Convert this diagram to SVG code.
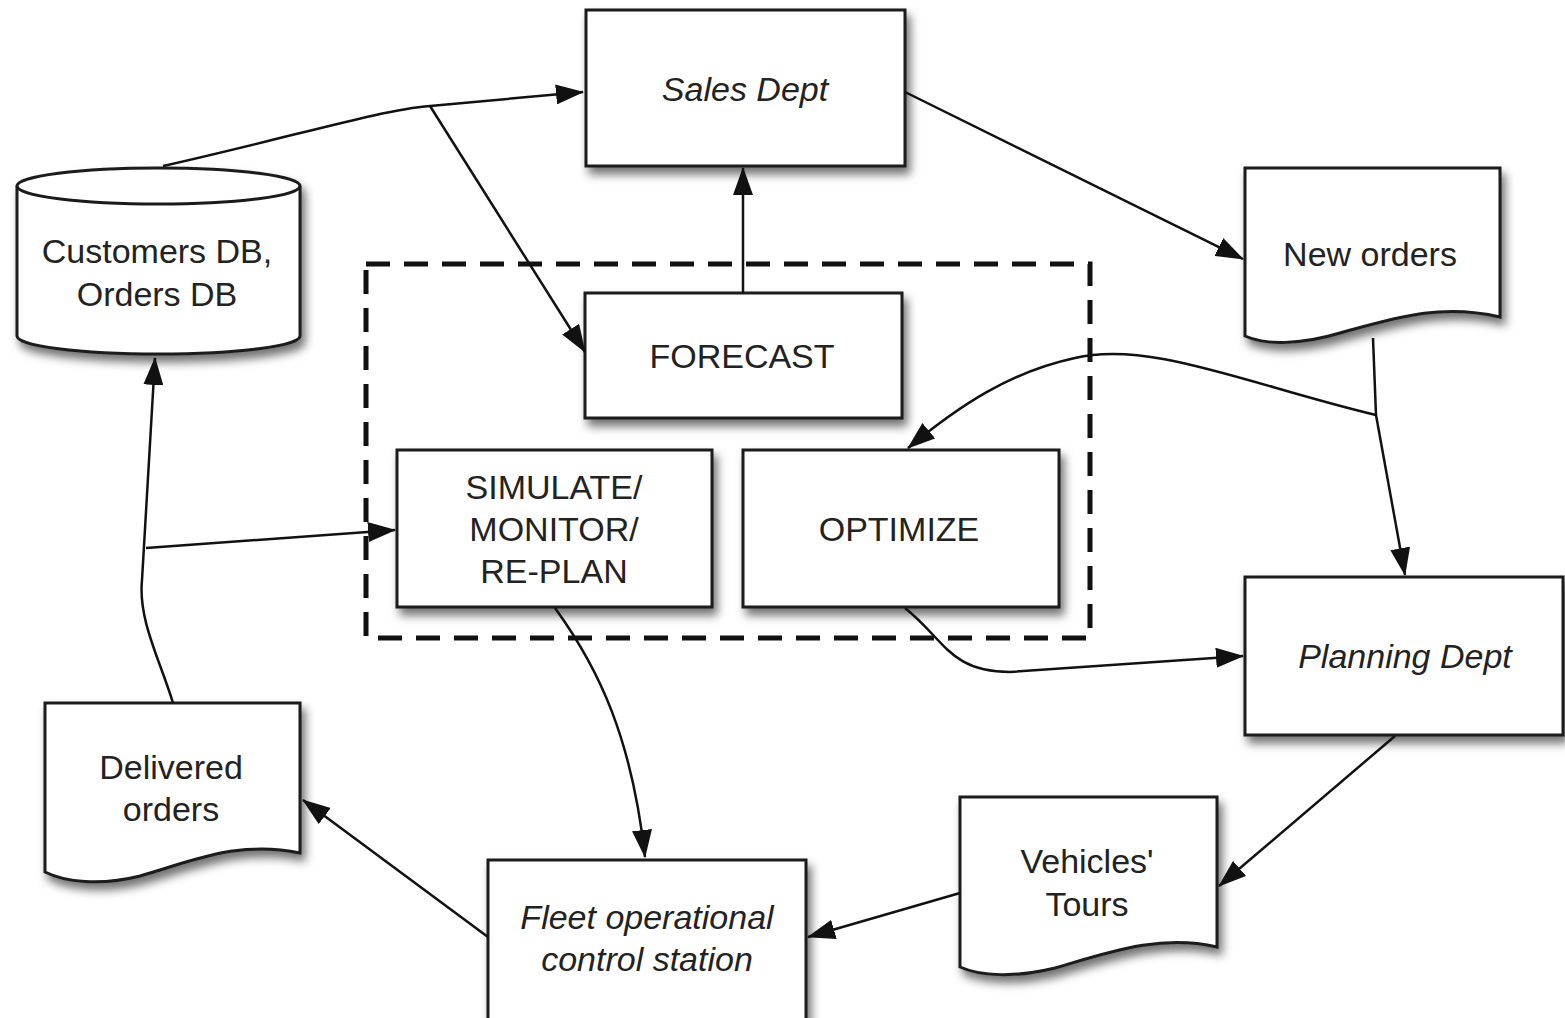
<svg xmlns="http://www.w3.org/2000/svg" width="1565" height="1018" viewBox="0 0 1565 1018">
<style>
.n{fill:#fff;stroke:#1a1a1a;stroke-width:3;filter:url(#sh)}
.t{font-family:"Liberation Sans",Arial,sans-serif;font-size:34px;fill:#222;text-anchor:middle}
.i{font-style:italic}
.c{fill:none;stroke:#111;stroke-width:2.5}
.a{marker-end:url(#ar)}
</style>
<defs>
<filter id="sh" x="-10%" y="-10%" width="125%" height="130%">
<feDropShadow dx="4" dy="7" stdDeviation="5" flood-color="#000" flood-opacity="0.55"/>
</filter>
<marker id="ar" viewBox="0 0 28 20" refX="27" refY="10" markerWidth="28" markerHeight="20" markerUnits="userSpaceOnUse" orient="auto">
<path d="M0,0 L28,10 L0,20 Z" fill="#111"/>
</marker>
</defs>
<rect width="1565" height="1018" fill="#fff"/>
<rect x="366" y="264" width="724" height="374" fill="none" stroke="#111" stroke-width="5" stroke-dasharray="24,14"/>
<g id="sales"><rect class="n" x="586" y="10" width="319" height="156"/><text class="t i" x="745" y="101">Sales Dept</text></g>
<g id="db"><path class="n" d="M17,186 A141,18 0 0 1 300,186 V336 A141,18 0 0 1 17,336 Z"/><path d="M17,186 A141,18 0 0 0 300,186" fill="none" stroke="#1a1a1a" stroke-width="3"/><text class="t" x="157" y="263">Customers DB,</text><text class="t" x="157" y="306">Orders DB</text></g>
<g id="neworders"><path class="n" d="M1245,168 H1500 V317 C1440,303 1395,318 1340,333 C1300,345 1265,345 1245,336 Z"/><text class="t" x="1370" y="266">New orders</text></g>
<g id="forecast"><rect class="n" x="585" y="293" width="317" height="125"/><text class="t" x="742" y="368">FORECAST</text></g>
<g id="simulate"><rect class="n" x="397" y="450" width="315" height="157"/><text class="t" x="554" y="499">SIMULATE/</text><text class="t" x="554" y="541">MONITOR/</text><text class="t" x="554" y="583">RE-PLAN</text></g>
<g id="optimize"><rect class="n" x="743" y="450" width="316" height="157"/><text class="t" x="899" y="541">OPTIMIZE</text></g>
<g id="planning"><rect class="n" x="1245" y="577" width="318" height="158"/><text class="t i" x="1405" y="668">Planning Dept</text></g>
<g id="delivered"><path class="n" d="M45,703 H300 V853 C240,840 195,860 140,876 C100,886 65,882 45,872 Z"/><text class="t" x="171" y="779">Delivered</text><text class="t" x="171" y="821">orders</text></g>
<g id="tours"><path class="n" d="M960,797 H1217 V947 C1160,934 1110,952 1055,968 C1015,978 980,976 960,967 Z"/><text class="t" x="1087" y="873">Vehicles'</text><text class="t" x="1087" y="916">Tours</text></g>
<g id="fleet"><rect class="n" x="488" y="860" width="318" height="170"/><text class="t i" x="647" y="929">Fleet operational</text><text class="t i" x="647" y="971">control station</text></g>
<g id="connectors">
<path class="c a" d="M163,166 C300,135 380,110 430,106 L583,92"/>
<path class="c a" d="M430,106 L585,352"/>
<path class="c a" d="M743,293 L743,168"/>
<path class="c a" d="M905,92 L1243,259"/>
<path class="c" d="M1373,338 L1376,415"/>
<path class="c a" d="M1376,415 L1405,575"/>
<path class="c a" d="M1376,415 C1250,385 1150,340 1075,358 C1010,372 960,405 908,448"/>
<path class="c a" d="M905,608 C945,640 950,672 1010,672 L1243,656"/>
<path class="c a" d="M1395,736 L1219,886"/>
<path class="c a" d="M960,893 L808,937"/>
<path class="c a" d="M488,937 L303,800"/>
<path class="c a" d="M555,608 C600,670 632,740 645,857"/>
<path class="c a" d="M173,703 C160,660 138,620 142,580 L155,358"/>
<path class="c a" d="M146,548 L395,530"/>
</g>
</svg>
